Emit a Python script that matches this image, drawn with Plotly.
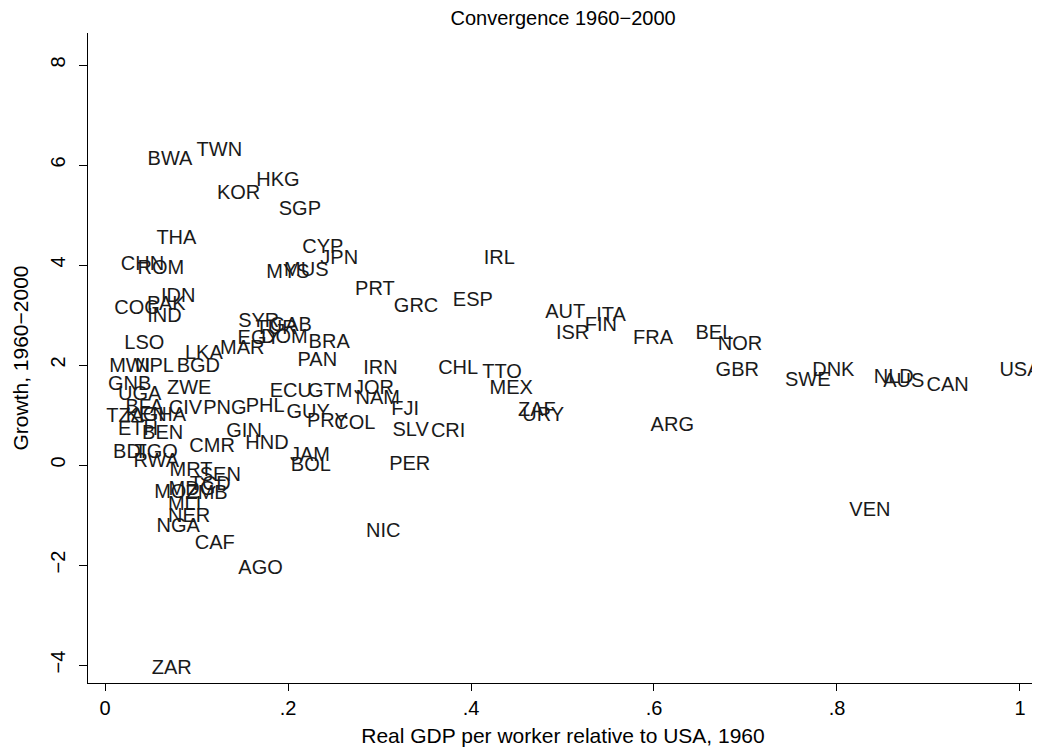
import plotly.graph_objects as go

countries = ["BWA","TWN","KOR","HKG","SGP","THA","CYP","JPN","CHN","ROM","MYS","MUS",
             "IRL","PRT","GRC","ESP","IDN","COG","PAK","IND","AUT","ITA","FIN","ISR",
             "FRA","BEL","NOR","GBR","SWE","DNK","NLD","AUS","CAN","USA","ARG","VEN",
             "LSO","MWI","NPL","BGD","LKA","MAR","SYR","TUR","GAB","EGY","DOM","BRA","PAN",
             "CHL","TTO","MEX","ZAF","URY","FJI","SLV","CRI","IRN","JOR","NAM","GTM","ECU",
             "PHL","GUY","PRY","COL","PNG","CIV","GIN","HND","CMR","JAM","BOL","PER","NIC",
             "ZWE","GNB","UGA","BFA","TZA","KEN","GHA","ETH","BEN","BDI","TGO","RWA",
             "MRT","SEN","TCD","MDG","MOZ","ZMB","MLI","NER","NGA","CAF","AGO","ZAR"]

rel_gdp = [0.071,0.125,0.146,0.189,0.213,0.078,0.238,0.256,0.041,0.061,0.200,0.220,
           0.431,0.295,0.340,0.402,0.080,0.035,0.067,0.065,0.503,0.553,0.542,0.511,
           0.599,0.666,0.694,0.691,0.768,0.796,0.862,0.873,0.921,1.000,0.620,0.836,
           0.043,0.027,0.054,0.102,0.108,0.150,0.168,0.187,0.203,0.168,0.196,0.245,0.232,
           0.386,0.434,0.444,0.472,0.479,0.328,0.334,0.375,0.301,0.294,0.298,0.246,0.203,
           0.175,0.222,0.243,0.273,0.131,0.088,0.152,0.177,0.117,0.224,0.225,0.333,0.304,
           0.092,0.027,0.038,0.043,0.022,0.045,0.065,0.036,0.063,0.027,0.056,0.056,
           0.094,0.126,0.115,0.095,0.078,0.111,0.087,0.092,0.080,0.120,0.170,0.073]

growth = [6.10,6.28,5.42,5.68,5.10,4.52,4.34,4.12,4.00,3.92,3.84,3.88,
          4.12,3.50,3.16,3.28,3.36,3.12,3.20,2.96,3.04,2.98,2.78,2.62,
          2.52,2.62,2.40,1.88,1.68,1.88,1.74,1.66,1.58,1.88,0.78,-0.92,
          2.42,1.96,1.96,1.96,2.22,2.32,2.86,2.72,2.78,2.52,2.54,2.44,2.08,
          1.92,1.84,1.52,1.08,0.98,1.10,0.68,0.66,1.92,1.52,1.32,1.46,1.46,
          1.16,1.04,0.86,0.82,1.12,1.12,0.66,0.42,0.36,0.18,-0.02,0.00,-1.34,
          1.52,1.60,1.40,1.14,0.96,0.98,0.98,0.70,0.62,0.24,0.24,0.06,
          -0.12,-0.22,-0.40,-0.50,-0.56,-0.58,-0.80,-1.04,-1.24,-1.58,-2.08,-4.08]

x_tickvals = [0, 0.2, 0.4, 0.6, 0.8, 1.0]
x_ticktext = ["0", ".2", ".4", ".6", ".8", "1"]
y_tickvals = [-4, -2, 0, 2, 4, 6, 8]

FONT = "Liberation Sans, Arial, Helvetica, sans-serif"

fig = go.Figure()
fig.add_trace(go.Scatter(
    x=rel_gdp, y=growth, text=countries, mode="text",
    textposition="middle center",
    textfont=dict(family=FONT, size=20, color="#1a1a1a"),
    showlegend=False, hoverinfo="text"))

fig.update_layout(
    width=1040, height=752,
    margin=dict(l=80, r=10, t=25, b=77, autoexpand=False),
    paper_bgcolor="white", plot_bgcolor="white",
    font=dict(family=FONT, color="black"),
    title=dict(text="Convergence 1960\u22122000", x=0.5337, xanchor="center",
               y=0.987, yanchor="middle",
               font=dict(size=20, color="black")),
    xaxis=dict(range=[-0.0186, 1.0197], tickvals=x_tickvals, ticktext=x_ticktext,
               showgrid=False, zeroline=False, showline=True, linecolor="black",
               linewidth=1, mirror=False, ticks="outside", ticklen=7, tickcolor="black",
               tickfont=dict(size=20, color="black"),
               title=dict(text="Real GDP per worker relative to USA, 1960",
                          font=dict(size=21, color="black"), standoff=10)),
    yaxis=dict(range=[-4.36, 8.64], tickvals=y_tickvals,
               showgrid=False, zeroline=False, showline=True, linecolor="black",
               linewidth=1, mirror=True, ticks="outside", ticklen=8, tickcolor="black",
               tickangle=-90, ticklabelstandoff=6, tickfont=dict(size=20, color="black"),
               title=dict(text="Growth, 1960\u22122000",
                          font=dict(size=21, color="black"), standoff=12)),
)

fig.write_html("out.html")
